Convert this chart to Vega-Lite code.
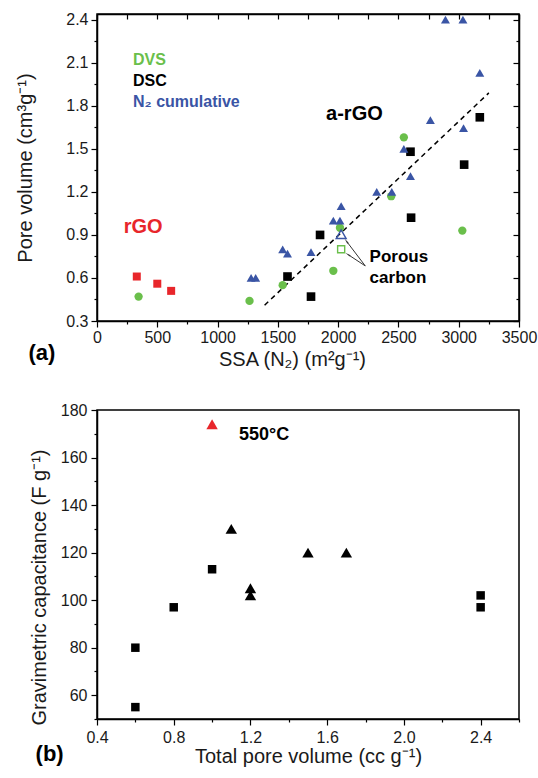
{
  "$schema": "https://vega.github.io/schema/vega-lite/v6.json",
  "padding": {"left": 15, "top": 10, "right": 0, "bottom": 5},
  "background": "white",
  "config": {
    "font": "Liberation Sans",
    "view": {"stroke": "black", "strokeWidth": 1.5},
    "axis": {
      "grid": false,
      "domainColor": "black",
      "domainWidth": 1.5,
      "tickColor": "black",
      "tickWidth": 1.2,
      "labelFont": "Liberation Sans",
      "labelFontSize": 16,
      "labelColor": "#1a1a1a",
      "labelOverlap": false,
      "labelFlush": false,
      "titleFont": "Liberation Sans",
      "titleFontSize": 20,
      "titleFontWeight": "normal",
      "titleColor": "#1a1a1a"
    }
  },
  "datasets": {
    "pores": [
      {"ssa": 330, "pv": 0.61, "set": "rGO", "form": "filled"},
      {"ssa": 500, "pv": 0.56, "set": "rGO", "form": "filled"},
      {"ssa": 615, "pv": 0.51, "set": "rGO", "form": "filled"},
      {"ssa": 345, "pv": 0.47, "set": "DVS", "form": "filled"},
      {"ssa": 1265, "pv": 0.44, "set": "DVS", "form": "filled"},
      {"ssa": 1540, "pv": 0.55, "set": "DVS", "form": "filled"},
      {"ssa": 1960, "pv": 0.65, "set": "DVS", "form": "filled"},
      {"ssa": 2015, "pv": 0.95, "set": "DVS", "form": "filled"},
      {"ssa": 2440, "pv": 1.17, "set": "DVS", "form": "filled"},
      {"ssa": 2545, "pv": 1.58, "set": "DVS", "form": "filled"},
      {"ssa": 3030, "pv": 0.93, "set": "DVS", "form": "filled"},
      {"ssa": 1580, "pv": 0.61, "set": "DSC", "form": "filled"},
      {"ssa": 1775, "pv": 0.47, "set": "DSC", "form": "filled"},
      {"ssa": 1850, "pv": 0.90, "set": "DSC", "form": "filled"},
      {"ssa": 2605, "pv": 1.02, "set": "DSC", "form": "filled"},
      {"ssa": 2600, "pv": 1.48, "set": "DSC", "form": "filled"},
      {"ssa": 3045, "pv": 1.39, "set": "DSC", "form": "filled"},
      {"ssa": 3175, "pv": 1.72, "set": "DSC", "form": "filled"},
      {"ssa": 1278, "pv": 0.60, "set": "N2", "form": "filled"},
      {"ssa": 1316, "pv": 0.60, "set": "N2", "form": "filled"},
      {"ssa": 1540, "pv": 0.80, "set": "N2", "form": "filled"},
      {"ssa": 1580, "pv": 0.77, "set": "N2", "form": "filled"},
      {"ssa": 1775, "pv": 0.78, "set": "N2", "form": "filled"},
      {"ssa": 1960, "pv": 1.00, "set": "N2", "form": "filled"},
      {"ssa": 2015, "pv": 1.00, "set": "N2", "form": "filled"},
      {"ssa": 2025, "pv": 1.10, "set": "N2", "form": "filled"},
      {"ssa": 2320, "pv": 1.20, "set": "N2", "form": "filled"},
      {"ssa": 2445, "pv": 1.20, "set": "N2", "form": "filled"},
      {"ssa": 2600, "pv": 1.31, "set": "N2", "form": "filled"},
      {"ssa": 2545, "pv": 1.50, "set": "N2", "form": "filled"},
      {"ssa": 2765, "pv": 1.70, "set": "N2", "form": "filled"},
      {"ssa": 3040, "pv": 1.645, "set": "N2", "form": "filled"},
      {"ssa": 3175, "pv": 2.03, "set": "N2", "form": "filled"},
      {"ssa": 2890, "pv": 2.40, "set": "N2", "form": "filled"},
      {"ssa": 3035, "pv": 2.40, "set": "N2", "form": "filled"},
      {"ssa": 2025, "pv": 0.905, "set": "N2", "form": "open"},
      {"ssa": 2025, "pv": 0.80, "set": "DVS", "form": "open"}
    ],
    "fit": [{"ssa_start": 1390, "pv_start": 0.41, "ssa_end": 3250, "pv_end": 1.89}],
    "arrows": [
      {"ssa_from": 2225, "pv_from": 0.684, "ssa_to": 2072, "pv_to": 0.853, "target": "N2"},
      {"ssa_from": 2225, "pv_from": 0.684, "ssa_to": 2086, "pv_to": 0.761, "target": "DVS"}
    ],
    "notesA": [
      {"ssa": 299, "pv": 2.121, "note": "DVS", "set": "DVS", "role": "key"},
      {"ssa": 299, "pv": 1.975, "note": "DSC", "set": "DSC", "role": "key"},
      {"ssa": 299, "pv": 1.828, "note": "N₂ cumulative", "set": "N2", "role": "key"},
      {"ssa": 1900, "pv": 1.741, "note": "a-rGO", "set": "a-rGO", "role": "group"},
      {"ssa": 222, "pv": 0.956, "note": "rGO", "set": "rGO", "role": "group"},
      {"ssa": 2261, "pv": 0.749, "note": "Porous", "set": "porous", "role": "porous"},
      {"ssa": 2261, "pv": 0.597, "note": "carbon", "set": "porous", "role": "porous"},
      {"ssa": -457, "pv": 0.077, "note": "(a)", "set": "panel", "role": "panel"}
    ],
    "caps": [
      {"vol": 0.6, "cap": 55, "group": "square"},
      {"vol": 0.6, "cap": 80, "group": "square"},
      {"vol": 0.8, "cap": 97, "group": "square"},
      {"vol": 1.0, "cap": 113, "group": "square"},
      {"vol": 2.4, "cap": 97, "group": "square"},
      {"vol": 2.4, "cap": 102, "group": "square"},
      {"vol": 1.1, "cap": 130, "group": "triangle"},
      {"vol": 1.2, "cap": 105, "group": "triangle"},
      {"vol": 1.2, "cap": 102, "group": "triangle"},
      {"vol": 1.5, "cap": 120, "group": "triangle"},
      {"vol": 1.7, "cap": 120, "group": "triangle"},
      {"vol": 1.0, "cap": 174, "group": "550"}
    ],
    "notesB": [
      {"vol": 1.14, "cap": 169.5, "note": "550°C", "role": "temp"},
      {"vol": 0.153, "cap": 35.4, "note": "(b)", "role": "panel"}
    ]
  },
  "spacing": 31,
  "vconcat": [
    {
      "width": 422,
      "height": 307,
      "resolve": {"axis": {"x": "independent", "y": "independent"}},
      "layer": [
        {
          "data": {"name": "fit"},
          "mark": {"type": "rule", "strokeDash": [5, 4], "strokeWidth": 1.5, "color": "black"},
          "encoding": {
            "x": {
              "field": "ssa_start", "type": "quantitative",
              "scale": {"domain": [0, 3500], "nice": false, "zero": false},
              "axis": {
                "orient": "top", "title": null, "labels": false, "domainWidth": 1.5,
                "values": [0, 250, 500, 750, 1000, 1250, 1500, 1750, 2000, 2250, 2500, 2750, 3000, 3250, 3500],
                "tickSize": -5
              }
            },
            "y": {
              "field": "pv_start", "type": "quantitative",
              "scale": {"domain": [0.3, 2.44], "nice": false, "zero": false},
              "axis": {
                "orient": "right", "title": null, "labels": false,
                "values": [0.3, 0.45, 0.6, 0.75, 0.9, 1.05, 1.2, 1.35, 1.5, 1.65, 1.8, 1.95, 2.1, 2.25, 2.4],
                "tickSize": {"condition": {"test": "abs(datum.value/0.3 - round(datum.value/0.3)) < 0.01", "value": -6}, "value": -3}
              }
            },
            "x2": {"field": "ssa_end"},
            "y2": {"field": "pv_end"}
          }
        },
        {
          "data": {"name": "arrows"},
          "mark": {"type": "rule", "strokeWidth": 1, "color": "#333"},
          "encoding": {
            "x": {"field": "ssa_from", "type": "quantitative", "axis": null},
            "y": {"field": "pv_from", "type": "quantitative", "axis": null},
            "x2": {"field": "ssa_to"},
            "y2": {"field": "pv_to"}
          }
        },
        {
          "data": {"name": "arrows"},
          "transform": [{"filter": "datum.target === 'N2'"}],
          "mark": {"type": "point", "shape": "wedge", "filled": true, "color": "#333", "size": 45, "angle": 323, "opacity": 1},
          "encoding": {
            "x": {"field": "ssa_to", "type": "quantitative", "axis": null},
            "y": {"field": "pv_to", "type": "quantitative", "axis": null}
          }
        },
        {
          "data": {"name": "arrows"},
          "transform": [{"filter": "datum.target === 'DVS'"}],
          "mark": {"type": "point", "shape": "wedge", "filled": true, "color": "#333", "size": 45, "angle": 303, "opacity": 1},
          "encoding": {
            "x": {"field": "ssa_to", "type": "quantitative", "axis": null},
            "y": {"field": "pv_to", "type": "quantitative", "axis": null}
          }
        },
        {
          "data": {"name": "pores"},
          "transform": [{"filter": "datum.form === 'filled'"}],
          "mark": {"type": "point", "filled": true, "opacity": 1, "strokeWidth": 0},
          "encoding": {
            "x": {
              "field": "ssa", "type": "quantitative",
              "axis": {
                "orient": "bottom",
                "title": "SSA (N₂) (m²g⁻¹)",
                "titleX": 195,
                "values": [0, 250, 500, 750, 1000, 1250, 1500, 1750, 2000, 2250, 2500, 2750, 3000, 3250, 3500],
                "labelExpr": "datum.value % 500 === 0 ? format(datum.value, 'd') : ''",
                "tickSize": {"condition": {"test": "datum.value % 500 === 0", "value": 6}, "value": 3},
                "labelPadding": 2,
                "titlePadding": 4
              }
            },
            "y": {
              "field": "pv", "type": "quantitative",
              "axis": {
                "orient": "left",
                "title": "Pore volume (cm³g⁻¹)",
                "values": [0.3, 0.45, 0.6, 0.75, 0.9, 1.05, 1.2, 1.35, 1.5, 1.65, 1.8, 1.95, 2.1, 2.25, 2.4],
                "labelExpr": "abs(datum.value/0.3 - round(datum.value/0.3)) < 0.01 ? format(datum.value, '.1f') : ''",
                "tickSize": {"condition": {"test": "abs(datum.value/0.3 - round(datum.value/0.3)) < 0.01", "value": 6}, "value": 3},
                "labelPadding": 3,
                "titlePadding": 30
              }
            },
            "shape": {"field": "set", "type": "nominal", "legend": null,
              "scale": {"domain": ["rGO", "DVS", "DSC", "N2"], "range": ["square", "circle", "square", "triangle-up"]}},
            "color": {"field": "set", "type": "nominal", "legend": null,
              "scale": {"domain": ["rGO", "DVS", "DSC", "N2"], "range": ["#e8262b", "#6abf4b", "#000000", "#3a55a5"]}},
            "size": {"field": "set", "type": "nominal", "legend": null,
              "scale": {"domain": ["rGO", "DVS", "DSC", "N2"], "range": [64, 80, 64, 120]}}
          }
        },
        {
          "data": {"name": "pores"},
          "transform": [{"filter": "datum.form === 'open' && datum.set === 'N2'"}],
          "mark": {"type": "point", "shape": "triangle-up", "filled": false, "color": "#3a55a5", "strokeWidth": 1.4, "size": 100, "opacity": 1},
          "encoding": {
            "x": {"field": "ssa", "type": "quantitative", "axis": null},
            "y": {"field": "pv", "type": "quantitative", "axis": null}
          }
        },
        {
          "data": {"name": "pores"},
          "transform": [{"filter": "datum.form === 'open' && datum.set === 'DVS'"}],
          "mark": {"type": "point", "shape": "square", "filled": false, "color": "#6abf4b", "strokeWidth": 1.4, "size": 50, "opacity": 1},
          "encoding": {
            "x": {"field": "ssa", "type": "quantitative", "axis": null},
            "y": {"field": "pv", "type": "quantitative", "axis": null}
          }
        },
        {
          "data": {"name": "notesA"},
          "transform": [{"filter": "datum.role === 'key'"}],
          "mark": {"type": "text", "align": "left", "baseline": "middle", "fontSize": 16, "fontWeight": "bold"},
          "encoding": {
            "x": {"field": "ssa", "type": "quantitative", "axis": null},
            "y": {"field": "pv", "type": "quantitative", "axis": null},
            "text": {"field": "note"},
            "color": {"field": "set", "type": "nominal", "legend": null,
              "scale": {"domain": ["rGO", "DVS", "DSC", "N2"], "range": ["#e8262b", "#6abf4b", "#000000", "#3a55a5"]}}
          }
        },
        {
          "data": {"name": "notesA"},
          "transform": [{"filter": "datum.set === 'a-rGO'"}],
          "mark": {"type": "text", "align": "left", "baseline": "middle", "fontSize": 20, "fontWeight": "bold", "color": "black"},
          "encoding": {
            "x": {"field": "ssa", "type": "quantitative", "axis": null},
            "y": {"field": "pv", "type": "quantitative", "axis": null},
            "text": {"field": "note"}
          }
        },
        {
          "data": {"name": "notesA"},
          "transform": [{"filter": "datum.set === 'rGO'"}],
          "mark": {"type": "text", "align": "left", "baseline": "middle", "fontSize": 20, "fontWeight": "bold", "color": "#e8262b"},
          "encoding": {
            "x": {"field": "ssa", "type": "quantitative", "axis": null},
            "y": {"field": "pv", "type": "quantitative", "axis": null},
            "text": {"field": "note"}
          }
        },
        {
          "data": {"name": "notesA"},
          "transform": [{"filter": "datum.role === 'porous'"}],
          "mark": {"type": "text", "align": "left", "baseline": "middle", "fontSize": 17, "fontWeight": "bold", "color": "black"},
          "encoding": {
            "x": {"field": "ssa", "type": "quantitative", "axis": null},
            "y": {"field": "pv", "type": "quantitative", "axis": null},
            "text": {"field": "note"}
          }
        },
        {
          "data": {"name": "notesA"},
          "transform": [{"filter": "datum.role === 'panel'"}],
          "mark": {"type": "text", "align": "center", "baseline": "middle", "fontSize": 22, "fontWeight": "bold", "color": "black"},
          "encoding": {
            "x": {"field": "ssa", "type": "quantitative", "axis": null},
            "y": {"field": "pv", "type": "quantitative", "axis": null},
            "text": {"field": "note"}
          }
        }
      ]
    },
    {
      "width": 422,
      "height": 309,
      "resolve": {"axis": {"x": "independent", "y": "independent"}},
      "layer": [
        {
          "data": {"name": "caps"},
          "transform": [{"filter": "datum.group === 'square'"}],
          "mark": {"type": "point", "shape": "square", "filled": true, "color": "black", "size": 72, "opacity": 1, "strokeWidth": 0},
          "encoding": {
            "x": {
              "field": "vol", "type": "quantitative",
              "scale": {"domain": [0.4, 2.6], "nice": false, "zero": false},
              "axis": {
                "orient": "bottom",
                "title": "Total pore volume (cc g⁻¹)",
                "values": [0.4, 0.6, 0.8, 1.0, 1.2, 1.4, 1.6, 1.8, 2.0, 2.2, 2.4, 2.6],
                "labelExpr": "abs(datum.value/0.4 - round(datum.value/0.4)) < 0.01 ? format(datum.value, '.1f') : ''",
                "tickSize": {"condition": {"test": "abs(datum.value/0.4 - round(datum.value/0.4)) < 0.01", "value": 6}, "value": 3},
                "labelPadding": 4,
                "titlePadding": 1
              }
            },
            "y": {
              "field": "cap", "type": "quantitative",
              "scale": {"domain": [50, 180], "nice": false, "zero": false},
              "axis": {
                "orient": "left",
                "title": "Gravimetric capacitance (F g⁻¹)",
                "titleY": 177,
                "values": [50, 60, 70, 80, 90, 100, 110, 120, 130, 140, 150, 160, 170, 180],
                "labelExpr": "datum.value % 20 === 0 ? format(datum.value, 'd') : ''",
                "tickSize": {"condition": {"test": "datum.value % 20 === 0", "value": 6}, "value": 3},
                "labelPadding": 4,
                "titlePadding": 11
              }
            }
          }
        },
        {
          "data": {"name": "caps"},
          "transform": [{"filter": "datum.group === 'triangle'"}],
          "mark": {"type": "point", "shape": "triangle-up", "filled": true, "color": "black", "size": 130, "opacity": 1, "strokeWidth": 0},
          "encoding": {
            "x": {"field": "vol", "type": "quantitative", "axis": null},
            "y": {"field": "cap", "type": "quantitative", "axis": null}
          }
        },
        {
          "data": {"name": "caps"},
          "transform": [{"filter": "datum.group === '550'"}],
          "mark": {"type": "point", "shape": "triangle-up", "filled": true, "color": "#e8262b", "size": 130, "opacity": 1, "strokeWidth": 0},
          "encoding": {
            "x": {"field": "vol", "type": "quantitative", "axis": null},
            "y": {"field": "cap", "type": "quantitative", "axis": null}
          }
        },
        {
          "data": {"name": "notesB"},
          "transform": [{"filter": "datum.role === 'temp'"}],
          "mark": {"type": "text", "align": "left", "baseline": "middle", "fontSize": 18, "fontWeight": "bold", "color": "black"},
          "encoding": {
            "x": {"field": "vol", "type": "quantitative", "axis": null},
            "y": {"field": "cap", "type": "quantitative", "axis": null},
            "text": {"field": "note"}
          }
        },
        {
          "data": {"name": "notesB"},
          "transform": [{"filter": "datum.role === 'panel'"}],
          "mark": {"type": "text", "align": "center", "baseline": "middle", "fontSize": 22, "fontWeight": "bold", "color": "black"},
          "encoding": {
            "x": {"field": "vol", "type": "quantitative", "axis": null},
            "y": {"field": "cap", "type": "quantitative", "axis": null},
            "text": {"field": "note"}
          }
        }
      ]
    }
  ]
}
